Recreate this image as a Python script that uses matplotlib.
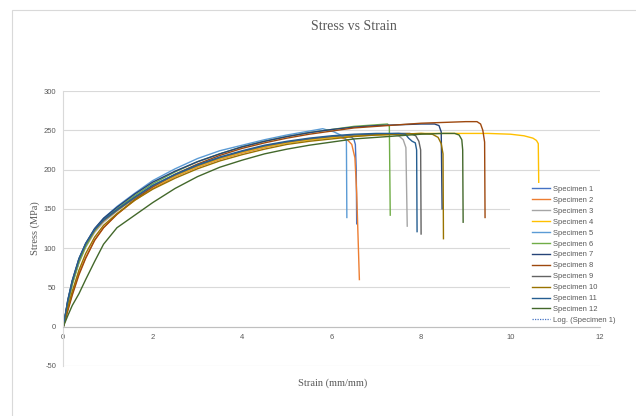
import matplotlib
matplotlib.use("Agg")
import matplotlib.pyplot as plt
from matplotlib.patches import Rectangle

plt.rcParams["axes.unicode_minus"] = False

# strain values (mm/mm) shared by the rising part of every curve
strain_grid = [0, 0.1, 0.2, 0.35, 0.5, 0.7, 0.9, 1.2, 1.6, 2.0, 2.5, 3.0, 3.5,
               4.0, 4.5, 5.0, 5.5, 6.0, 6.5, 7.0, 7.5, 8.0, 8.5, 9.0, 9.5, 10.0]

# stress (MPa) read on strain_grid, then the failure tail of each specimen
stress_1 = [0, 31, 56, 84, 104, 123, 136, 149, 165, 179, 193, 205, 215, 223, 230, 235, 239, 242]
tail_strain_1 = [6.3, 6.45, 6.5, 6.53, 6.55, 6.56]
tail_stress_1 = [243, 241, 238, 232, 200, 131]

stress_2 = [0, 22, 42, 68, 88, 110, 126, 143, 161, 176, 191, 203, 213, 221, 228, 234, 238, 241]
tail_strain_2 = [6.2, 6.35, 6.45, 6.52, 6.56, 6.62]
tail_stress_2 = [241, 238, 232, 215, 170, 60]

stress_3 = [0, 30, 54, 81, 101, 120, 133, 147, 164, 178, 192, 204, 214, 222, 229, 234, 238, 241, 243, 244]
tail_strain_3 = [7.35, 7.5, 7.6, 7.66, 7.69]
tail_stress_3 = [245, 243, 238, 228, 128]

stress_4 = [0, 31, 56, 83, 103, 122, 135, 148, 164, 178, 192, 204, 214, 222, 229, 234, 238, 241,
            243, 244, 245, 246, 246, 246, 246, 245]
tail_strain_4 = [10.3, 10.5, 10.58, 10.62, 10.63]
tail_stress_4 = [243, 240, 237, 233, 183]

stress_5 = [0, 30, 55, 83, 104, 124, 138, 153, 170, 186, 201, 214, 224, 231, 238, 244, 249]
tail_strain_5 = [5.8, 6.05, 6.2, 6.3, 6.33, 6.34]
tail_stress_5 = [252, 248, 244, 240, 236, 139]

stress_6 = [0, 30, 54, 82, 102, 122, 136, 150, 167, 182, 197, 210, 220, 229, 236, 242, 247, 251, 255, 257]
tail_strain_6 = [7.25, 7.29, 7.31]
tail_stress_6 = [258, 255, 142]

stress_7 = [0, 33, 58, 86, 106, 125, 138, 152, 169, 184, 198, 210, 220, 229, 236, 242, 247, 251,
            254, 256, 257, 258]
tail_strain_7 = [8.3, 8.4, 8.45, 8.47]
tail_stress_7 = [258, 256, 248, 150]

stress_8 = [0, 20, 40, 66, 87, 110, 126, 143, 162, 178, 194, 207, 218, 227, 234, 240, 245, 249,
            253, 255, 257, 259, 260, 261]
tail_strain_8 = [9.25, 9.33, 9.38, 9.42, 9.43]
tail_stress_8 = [261, 258, 250, 235, 139]

stress_9 = [0, 33, 58, 86, 105, 123, 135, 148, 164, 179, 193, 205, 215, 223, 230, 235, 239, 242, 244, 245, 246]
tail_strain_9 = [7.75, 7.88, 7.95, 7.99, 8.0]
tail_stress_9 = [246, 243, 236, 225, 118]

stress_10 = [0, 24, 45, 72, 93, 114, 129, 144, 161, 175, 189, 201, 211, 219, 226, 232, 236, 239,
             242, 244, 245, 246]
tail_strain_10 = [8.25, 8.38, 8.45, 8.49, 8.5]
tail_stress_10 = [245, 241, 233, 220, 112]

stress_11 = [0, 34, 59, 87, 106, 124, 136, 149, 165, 180, 194, 206, 216, 224, 231, 236, 240, 243, 245, 246, 246]
tail_strain_11 = [7.65, 7.72, 7.8, 7.87, 7.9, 7.91]
tail_stress_11 = [245, 240, 236, 234, 225, 121]

stress_12 = [0, 14, 27, 42, 60, 83, 105, 126, 142, 158, 176, 191, 203, 212, 220, 226, 231, 235,
             239, 241, 243, 245, 246]
tail_strain_12 = [8.75, 8.85, 8.91, 8.93, 8.94]
tail_stress_12 = [246, 244, 238, 225, 133]

labels = ["Specimen %d" % i for i in range(1, 13)]
colors = ["#4472C4", "#ED7D31", "#A5A5A5", "#FFC000", "#5B9BD5", "#70AD47",
          "#264478", "#9E480E", "#636363", "#997300", "#255E91", "#43682B"]

rises = [stress_1, stress_2, stress_3, stress_4, stress_5, stress_6,
         stress_7, stress_8, stress_9, stress_10, stress_11, stress_12]
tails_x = [tail_strain_1, tail_strain_2, tail_strain_3, tail_strain_4, tail_strain_5, tail_strain_6,
           tail_strain_7, tail_strain_8, tail_strain_9, tail_strain_10, tail_strain_11, tail_strain_12]
tails_y = [tail_stress_1, tail_stress_2, tail_stress_3, tail_stress_4, tail_stress_5, tail_stress_6,
           tail_stress_7, tail_stress_8, tail_stress_9, tail_stress_10, tail_stress_11, tail_stress_12]

text_gray = "#595959"
grid_gray = "#D9D9D9"

fig = plt.figure(figsize=(6.36, 4.16), dpi=100)
fig.patches.append(Rectangle((12 / 636, -0.2), 2, 1.2 - 10 / 416, transform=fig.transFigure,
                             fill=False, edgecolor=grid_gray, lw=0.8))

ax = fig.add_axes([63.3 / 636, 1 - 366 / 416, (600 - 63.3) / 636, (366 - 91) / 416])

for rise, tx, ty, lab, col in zip(rises, tails_x, tails_y, labels, colors):
    x = strain_grid[:len(rise)] + tx
    y = rise + ty
    ax.plot(x, y, color=col, lw=1.0, label=lab, solid_joinstyle="round")
ax.plot([], [], color="#4472C4", lw=0.9, ls=(0, (1, 1)), label="Log. (Specimen 1)")

ax.set_xlim(0, 12)
ax.set_ylim(-50, 300)
ax.set_xticks(range(0, 13, 2))
ax.set_yticks(range(-50, 301, 50))
ax.grid(axis="y", color=grid_gray, lw=0.8)
ax.set_axisbelow(True)
for s in ["top", "right"]:
    ax.spines[s].set_visible(False)
ax.spines["bottom"].set_position(("data", 0))
ax.spines["bottom"].set_color("#BFBFBF")
ax.spines["left"].set_color(grid_gray)
ax.spines["left"].set_linewidth(0.8)
ax.tick_params(length=0, colors=text_gray, labelsize=5.5, pad=5)
for t in ax.get_xticklabels() + ax.get_yticklabels():
    t.set_fontfamily("Liberation Sans")

# white legend area covering gridlines
ax.add_patch(Rectangle((510 / 636, 1 - 323 / 416), 115 / 636, 140 / 416,
                       transform=fig.transFigure, facecolor="white",
                       edgecolor="none", zorder=5, clip_on=False))
leg = ax.legend(loc="upper left", bbox_to_anchor=(532 / 636, 1 - 185.5 / 416),
                bbox_transform=fig.transFigure, frameon=False, borderpad=0,
                borderaxespad=0, handlelength=2.4, handletextpad=0.4,
                labelspacing=0.47, prop={"family": "Liberation Sans", "size": 5.5})
for t in leg.get_texts():
    t.set_color(text_gray)
leg.set_zorder(6)

fig.text(354 / 636, 1 - 27 / 416, "Stress vs Strain", ha="center", va="center",
         family="Liberation Serif", fontsize=10, color=text_gray)
fig.text(35 / 636, 1 - 228 / 416, "Stress (MPa)", ha="center", va="center", rotation=90,
         family="Liberation Serif", fontsize=7.5, color=text_gray)
fig.text(333 / 636, 1 - 383 / 416, "Strain (mm/mm)", ha="center", va="center",
         family="Liberation Serif", fontsize=7.5, color=text_gray)

fig.savefig("out.png", dpi=100)
